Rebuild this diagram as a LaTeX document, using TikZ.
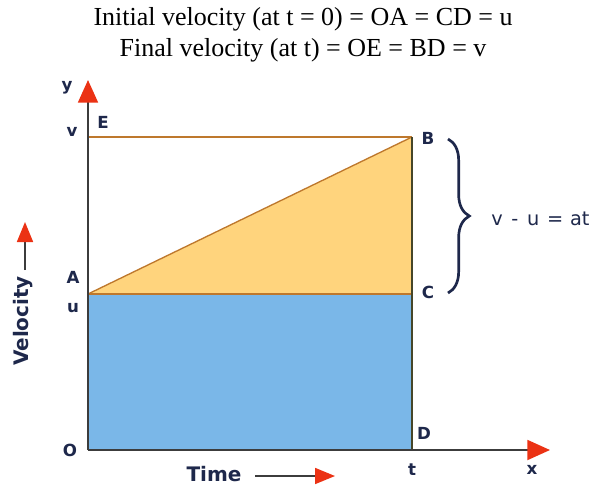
\documentclass[tikz,border=0pt]{standalone}
\usepackage{fontspec}
\setmainfont{Liberation Serif}
\newfontfamily\lblfont{DejaVu Sans}
\usetikzlibrary{arrows.meta,decorations.pathreplacing}
\definecolor{navy}{RGB}{30,40,75}
\definecolor{bluefill}{RGB}{122,183,232}
\definecolor{orangefill}{RGB}{255,212,125}
\definecolor{orangeline}{RGB}{190,120,45}
\definecolor{axisgray}{RGB}{60,60,60}
\definecolor{arrowred}{RGB}{235,50,20}
\tikzset{
  lbl/.style={font=\lblfont\bfseries\fontsize{12.5}{14}\selectfont, text=navy, inner sep=0pt},
  biglbl/.style={font=\lblfont\bfseries\fontsize{15}{17}\selectfont, text=navy, inner sep=0pt},
  ttl/.style={font=\fontsize{19.5}{23}\selectfont, inner sep=0pt, anchor=base},
  axisline/.style={draw=axisgray, line width=1.4pt},
  redtip/.style={-{Triangle[length=17pt,width=15pt,color=arrowred]}},
  smalltip/.style={-{Triangle[length=15pt,width=12pt,color=arrowred]}}
}
\begin{document}
\begin{tikzpicture}[x=0.75pt,y=-0.75pt]
\useasboundingbox (0,0) rectangle (606,486);
% title
\node[ttl] (t1) at (303,25) {Initial velocity (at t = 0) = OA = CD = u};
\node[ttl] (t2) at (303,56) {Final velocity (at t) = OE = BD = v};
% key points
\coordinate (O) at (88,450);
\coordinate (A) at (88,294);
\coordinate (E) at (88,137);
\coordinate (B) at (412,137);
\coordinate (C) at (412,294);
\coordinate (D) at (412,450);
\coordinate (Ytip) at (88,80);
\coordinate (Xtip) at (550,450);
% fills
\fill[bluefill] (A) rectangle (D);
\fill[orangefill] (A) -- (B) -- (C) -- cycle;
\draw[orangeline, line width=1pt] (A) -- (B);
\draw[orangeline, line width=1.6pt] (A) -- (C);
\draw[orangeline, line width=0.9pt] (E) -- (B);
\draw[draw={rgb,255:red,70;green,70;blue,40}, line width=1.2pt] (B) -- (D);
% axes
\draw[axisline, redtip] (O) -- (Ytip);
\draw[axisline, redtip] (O) -- (Xtip);
% labels
\node[lbl] (ly) at (67,88) {y};
\node[lbl] (lv) at (72,132) {v};
\node[lbl] (lE) at (103,122) {E};
\node[lbl] (lA) at (73,277) {A};
\node[lbl] (lu) at (73,308) {u};
\node[lbl] (lO) at (70,450) {O};
\node[lbl] (lB) at (428,138) {B};
\node[lbl] (lC) at (428,292) {C};
\node[lbl] (lD) at (424,433) {D};
\node[lbl] (lt) at (412,470) {t};
\node[lbl] (lx) at (532,470) {x};
% brace
\draw[navy, line width=2pt, decorate, decoration={brace, amplitude=16pt}] (448,139) -- (448,293);
\node[font=\lblfont\fontsize{14.5}{16}\selectfont, text=navy, anchor=west, inner sep=0pt] (eq) at (491,219) {v\hspace{0.45em}-\hspace{0.45em}u\hspace{0.4em}=\hspace{0.35em}at};
% velocity label
\node[biglbl, rotate=90] (vel) at (23,321) {Velocity};
\coordinate (vs) at (25,270);
\coordinate (ve) at (25,222);
\draw[axisgray, line width=1.3pt, smalltip] (vs) -- (ve);
% time label
\node[biglbl] (time) at (214,474) {Time};
\coordinate (ts) at (255,476);
\coordinate (te) at (335,476);
\draw[axisgray, line width=1.3pt, smalltip] (ts) -- (te);
\end{tikzpicture}
\end{document}
